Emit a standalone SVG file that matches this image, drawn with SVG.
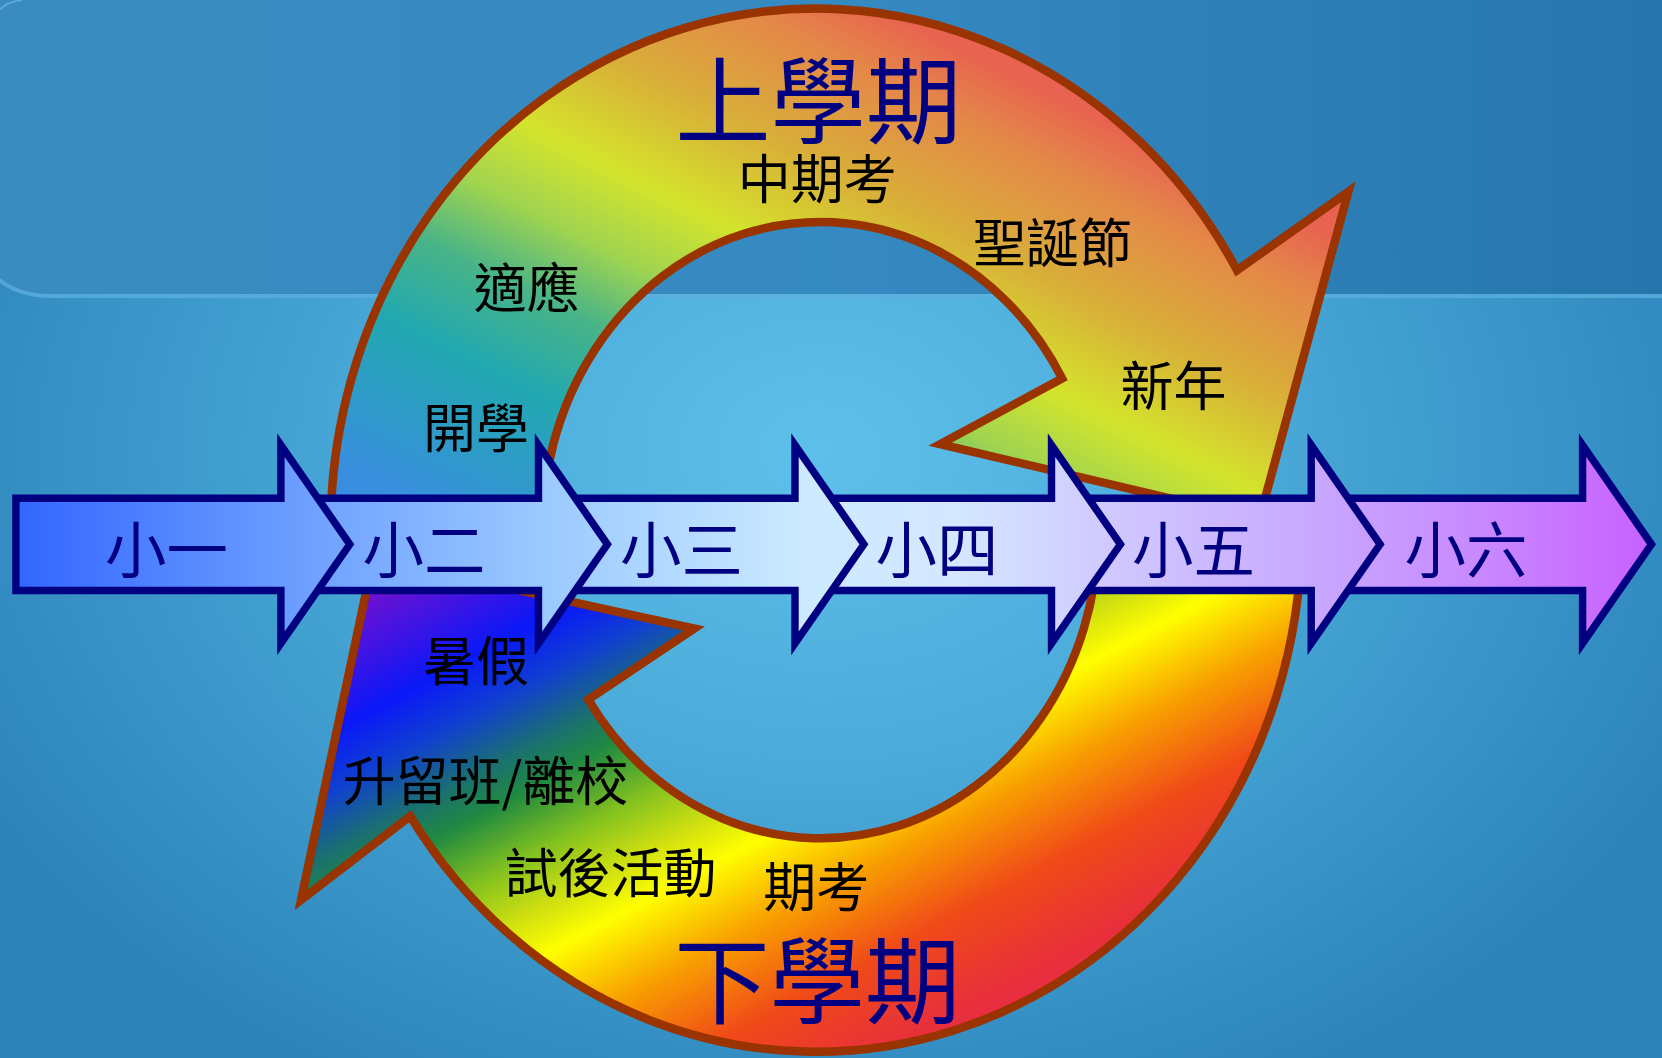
<svg xmlns="http://www.w3.org/2000/svg" width="1662" height="1058" viewBox="0 0 1662 1058">
<defs>
<radialGradient id="bgGrad" gradientUnits="userSpaceOnUse" cx="820" cy="450" r="950" gradientTransform="translate(820 450) scale(1 0.75) translate(-820 -450)">
<stop offset="0" stop-color="#5ec0ea"/>
<stop offset="0.45" stop-color="#4aaad9"/>
<stop offset="1" stop-color="#2c84bb"/>
</radialGradient>
<linearGradient id="bandGrad" x1="0" y1="0" x2="1" y2="0">
<stop offset="0" stop-color="#3a8bc0"/>
<stop offset="0.5" stop-color="#358ac1"/>
<stop offset="1" stop-color="#2676ad"/>
</linearGradient>
<linearGradient id="upGrad" gradientUnits="userSpaceOnUse" x1="613" y1="591" x2="906" y2="11">
<stop offset="0" stop-color="#3a8ee0"/>
<stop offset="0.23" stop-color="#22a8b0"/>
<stop offset="0.354" stop-color="#48b488"/>
<stop offset="0.46" stop-color="#a0d450"/>
<stop offset="0.57" stop-color="#d4e42c"/>
<stop offset="0.707" stop-color="#d8b038"/>
<stop offset="0.862" stop-color="#e48848"/>
<stop offset="0.95" stop-color="#e86450"/>
<stop offset="1" stop-color="#e86050"/>
</linearGradient>
<linearGradient id="lowGrad" gradientUnits="userSpaceOnUse" x1="620" y1="412" x2="942" y2="1011">
<stop offset="0" stop-color="#7010d0"/>
<stop offset="0.147" stop-color="#0a18f8"/>
<stop offset="0.22" stop-color="#1040d0"/>
<stop offset="0.294" stop-color="#1a7070"/>
<stop offset="0.346" stop-color="#208a40"/>
<stop offset="0.426" stop-color="#80c020"/>
<stop offset="0.5" stop-color="#d0e010"/>
<stop offset="0.559" stop-color="#ffff00"/>
<stop offset="0.662" stop-color="#f8a000"/>
<stop offset="0.779" stop-color="#f04a18"/>
<stop offset="0.897" stop-color="#e8303a"/>
<stop offset="1" stop-color="#e82850"/>
</linearGradient>
<linearGradient id="arrowGrad" gradientUnits="userSpaceOnUse" x1="15" y1="0" x2="1557" y2="0">
<stop offset="0" stop-color="#3366ff"/>
<stop offset="0.165" stop-color="#6a9cff"/>
<stop offset="0.327" stop-color="#9ccaff"/>
<stop offset="0.483" stop-color="#cceaff"/>
<stop offset="0.574" stop-color="#d4e8ff"/>
<stop offset="0.671" stop-color="#d0c8ff"/>
<stop offset="0.794" stop-color="#c8a8ff"/>
<stop offset="0.898" stop-color="#c888ff"/>
<stop offset="1" stop-color="#c860ff"/>
</linearGradient>
</defs>
<style>
.arc{stroke:#993300;stroke-width:8;stroke-linejoin:miter}
.step{fill:url(#arrowGrad);stroke:#000080;stroke-width:7;stroke-linejoin:miter}
text{font-family:"Noto Sans CJK TC","Noto Sans CJK SC",sans-serif;text-anchor:middle}
.lbl{font-size:50px;fill:#000000}
.yr{font-size:58px;fill:#000080}
.big{font-size:90px;fill:#000080}
</style>
<rect id="background" x="0" y="0" width="1662" height="1058" fill="url(#bgGrad)"/>
<path id="topband" d="M -2,0 H 1664 V 294 H 50 C 25,294 10,288 -2,278 Z" fill="url(#bandGrad)"/>
<path d="M -2,279 C 10,289 25,296 50,296 H 1662" stroke="#5cb0de" stroke-width="4" opacity="0.75" fill="none"/>
<path d="M 0,10 Q 6,2 22,0" stroke="#5fb0de" stroke-width="2" fill="none" opacity="0.8"/>
<g transform="scale(1.06)">
<g id="connectors">
<path id="upper-term" class="arc" fill="url(#upGrad)" d="M 312,512 A 458 492 0 0 1 1167,255 L 1272,181 L 1188,490 L 887,419 L 1002,357 A 262 290 0 0 0 512,512 Z"/>
<path id="lower-term" class="arc" fill="url(#lowGrad)" d="M 1228,505 A 458 492 0 0 1 387,770 L 284,849 L 352,527 L 655,593 L 555,660 A 262 290 0 0 0 1036,505 Z"/>
</g>
<g id="grade6"><path class="step" d="M 1265,470 L 1493,470 L 1493,420 L 1558,513.5 L 1493,607 L 1493,557 L 1265,557 Z"/><text class="yr" x="1383" y="541">小六</text></g>
<g id="grade5"><path class="step" d="M 1020,470 L 1237,470 L 1237,420 L 1302,513.5 L 1237,607 L 1237,557 L 1020,557 Z"/><text class="yr" x="1126" y="541">小五</text></g>
<g id="grade4"><path class="step" d="M 778,470 L 992,470 L 992,420 L 1057,513.5 L 992,607 L 992,557 L 778,557 Z"/><text class="yr" x="884" y="541">小四</text></g>
<g id="grade3"><path class="step" d="M 535,470 L 750,470 L 750,420 L 815,513.5 L 750,607 L 750,557 L 535,557 Z"/><text class="yr" x="643" y="541">小三</text></g>
<g id="grade2"><path class="step" d="M 292,470 L 508,470 L 508,420 L 573,513.5 L 508,607 L 508,557 L 292,557 Z"/><text class="yr" x="400" y="541">小二</text></g>
<g id="grade1"><path class="step" d="M 15,470 L 265,470 L 265,420 L 330,513.5 L 265,607 L 265,557 L 15,557 Z"/><text class="yr" x="157" y="541">小一</text></g>
<g id="labels">
<text id="t-up" class="big" x="772" y="129">上學期</text>
<text class="lbl" x="771" y="188">中期考</text>
<text class="lbl" x="993" y="248">聖誕節</text>
<text class="lbl" x="497" y="291">適應</text>
<text class="lbl" x="449" y="423">開學</text>
<text class="lbl" x="1107" y="383">新年</text>
<text class="lbl" x="449" y="642">暑假</text>
<text class="lbl" x="458" y="756">升留班/離校</text>
<text class="lbl" x="576" y="842">試後活動</text>
<text class="lbl" x="770" y="856">期考</text>
<text id="t-down" class="big" x="771" y="959">下學期</text>
</g>
</g>
</svg>
